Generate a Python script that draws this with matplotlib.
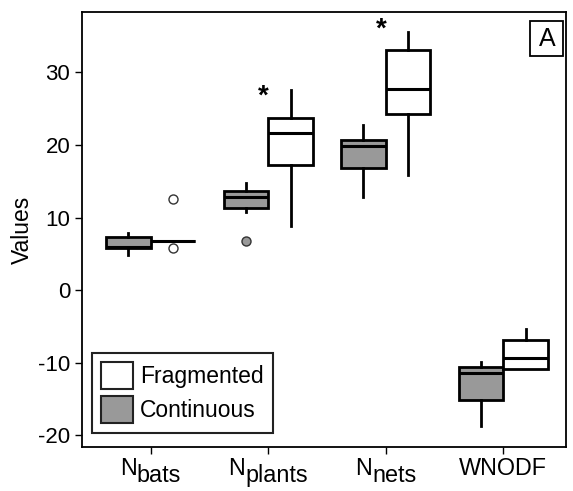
import matplotlib
matplotlib.use("Agg")
import matplotlib.pyplot as plt
from matplotlib.patches import Patch, Rectangle

plt.rcParams['font.family'] = ['Liberation Sans', 'DejaVu Sans']
plt.rcParams['axes.unicode_minus'] = False

# x labels: main part and subscript (subscript drawn full size, lowered)
label_main = ['N', 'N', 'N', 'WNODF']
label_sub = ['bats', 'plants', 'nets', '']

# continuous (grey) boxes
cont_q1 = [5.75, 11.3, 16.8, -15.1]
cont_med = [5.95, 12.85, 19.8, -11.4]
cont_q3 = [7.25, 13.7, 20.7, -10.55]
cont_lo = [4.8, 10.8, 12.85, -18.7]
cont_hi = [7.9, 14.7, 22.7, -9.9]
cont_fliers = [[], [6.7], [], []]

# fragmented (white) boxes
frag_q1 = [6.75, 17.2, 24.3, -10.8]
frag_med = [6.75, 21.7, 27.65, -9.3]
frag_q3 = [6.75, 23.65, 33.05, -6.9]
frag_lo = [6.75, 8.8, 15.8, -10.8]
frag_hi = [6.75, 27.5, 35.6, -5.4]
frag_fliers = [[12.5, 5.75], [], [], []]

stars_x = [2, 3]
stars_y = [26.6, 35.9]


def make_stats(q1, med, q3, lo, hi, fl):
    return [dict(q1=a, med=b, q3=c, whislo=d, whishi=e, fliers=f)
            for a, b, c, d, e, f in zip(q1, med, q3, lo, hi, fl)]


fig = plt.figure(figsize=(5.73, 4.91), dpi=100)
ax = fig.add_axes([0.143, 0.0896, 0.845, 0.886])

pos = [1, 2, 3, 4]
w = 0.38
common = dict(widths=w, patch_artist=True,
              whiskerprops=dict(color='black', lw=2),
              capprops=dict(lw=0),
              medianprops=dict(color='black', lw=2.2))

ax.bxp(make_stats(cont_q1, cont_med, cont_q3, cont_lo, cont_hi, cont_fliers),
       positions=[p - w / 2 for p in pos],
       boxprops=dict(facecolor='#999999', edgecolor='black', lw=2),
       flierprops=dict(marker='o', markerfacecolor='#999999', markeredgecolor='#333333',
                       markersize=6.5, mew=1),
       **common)
ax.bxp(make_stats(frag_q1, frag_med, frag_q3, frag_lo, frag_hi, frag_fliers),
       positions=[p + w / 2 for p in pos],
       boxprops=dict(facecolor='white', edgecolor='black', lw=2),
       flierprops=dict(marker='o', markerfacecolor='white', markeredgecolor='#333333',
                       markersize=6.5, mew=1),
       **common)

for x, y in zip(stars_x, stars_y):
    ax.text(x - 0.04, y, '*', ha='center', va='center', fontsize=20, fontweight='bold')

ax.set_xlim(0.415, 4.534)
ax.set_ylim(-21.6, 38.3)
ax.set_xticks(pos)
ax.set_xticklabels([''] * len(pos))
ax.set_yticks([-20, -10, 0, 10, 20, 30])
ax.tick_params(axis='y', labelsize=16, length=5, width=1)
ax.tick_params(axis='x', length=5, width=1)
ax.set_ylabel('Values', fontsize=16.5)
ax.yaxis.label.set_va('center')
ax.yaxis.set_label_coords(-0.1225, 0.5)
for s in ax.spines.values():
    s.set_linewidth(1.3)

# x tick labels with full-size lowered subscripts
fig.canvas.draw()
r = fig.canvas.get_renderer()
for p, m, sub in zip(pos, label_main, label_sub):
    tm = ax.annotate(m, xy=(p, 0), xycoords=('data', 'axes fraction'),
                     xytext=(0, -28), textcoords='offset pixels',
                     ha='left', va='baseline', fontsize=16.8, annotation_clip=False)
    ts = ax.annotate(sub, xy=(p, 0), xycoords=('data', 'axes fraction'),
                     xytext=(0, -34.5), textcoords='offset pixels',
                     ha='left', va='baseline', fontsize=16.8, annotation_clip=False)
    wm = tm.get_window_extent(r).width
    ws = ts.get_window_extent(r).width if sub else 0
    x0 = -(wm + ws) / 2
    tm.xyann = (x0, -28)
    ts.xyann = (x0 + wm, -34.5)

handles = [Patch(facecolor='white', edgecolor='#222222', lw=1.5, label='Fragmented'),
           Patch(facecolor='#999999', edgecolor='#222222', lw=1.5, label='Continuous')]
leg = ax.legend(handles=handles, loc='lower left', bbox_to_anchor=(0.021, 0.033),
                borderaxespad=0, fontsize=16.5, fancybox=False, framealpha=1,
                handlelength=1.4, handleheight=1.45, labelspacing=0.32,
                handletextpad=0.28, borderpad=0.4)
leg.get_frame().set_edgecolor('#222222')
leg.get_frame().set_linewidth(1.5)

ax.add_patch(Rectangle((0.926, 0.8995), 0.0685, 0.0805, transform=ax.transAxes,
                       facecolor='white', edgecolor='black', lw=1.3, zorder=5))
ax.text(0.9605, 0.938, 'A', transform=ax.transAxes, ha='center', va='center',
        fontsize=18, zorder=6)

fig.savefig('out.png', dpi=100)
